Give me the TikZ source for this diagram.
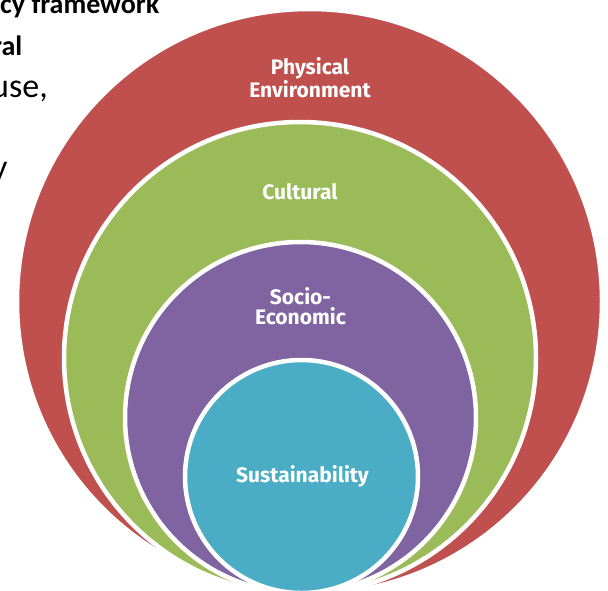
\documentclass[tikz,border=0pt]{standalone}
\usepackage{fontspec}
\setmainfont{Carlito}
\newfontfamily\ringfont{Fira Sans}
\usetikzlibrary{positioning}
\definecolor{physred}{HTML}{C0504D}
\definecolor{cultgreen}{HTML}{9BBB59}
\definecolor{socpurple}{HTML}{8064A2}
\definecolor{susblue}{HTML}{4BACC6}
\tikzset{
    %Define style for the rings
    ring/.style={
        circle,
        draw=white, line width=4.5pt,
        inner sep=0pt,
        minimum size=#1,
    },
    lbl/.style={
        text=white,
        align=center,
        inner sep=0pt,
        font=\ringfont\bfseries\fontsize{21}{19.5}\selectfont,
    },
    frag/.style={
        anchor=base west,
        inner sep=0pt,
    },
}

\begin{document}
\begin{tikzpicture}[x=1pt,y=-1pt]
		\useasboundingbox (0,0) rectangle (608,590);
		\clip (0,0) rectangle (608,590);

		% text box behind the rings
		\node[frag,font=\bfseries\fontsize{28}{34}\selectfont] (t1) at (0,13) {cy framework};
		\node[frag,font=\bfseries\fontsize{28}{34}\selectfont] (t2) at (-8,55) {ral};
		\node[frag,font=\fontsize{34}{40}\selectfont] (t3) at (-9,97) {use,};
		\node[frag,font=\fontsize{34}{40}\selectfont] (t4) at (-8,178) {y};

		\node[ring=585pt,fill=physred] (phys) at (309.5,301.5) {};
		\node[ring=472pt,fill=cultgreen] (cult) at (300,358) {};
		\node[ring=351pt,fill=socpurple] (soc) at (300.5,417.5) {};
		\node[ring=233pt,fill=susblue] (sus) at (301.5,476.5) {};

		\node[lbl] (physl) at (310,78) {Physical\\Environment};
		\node[lbl] (cultl) at (300,192) {Cultural};
		\node[lbl] (socl) at (300.5,306) {Socio-\\Economic};
		\node[lbl] (susl) at (302.5,476) {Sustainability};
	\end{tikzpicture}
\end{document}
